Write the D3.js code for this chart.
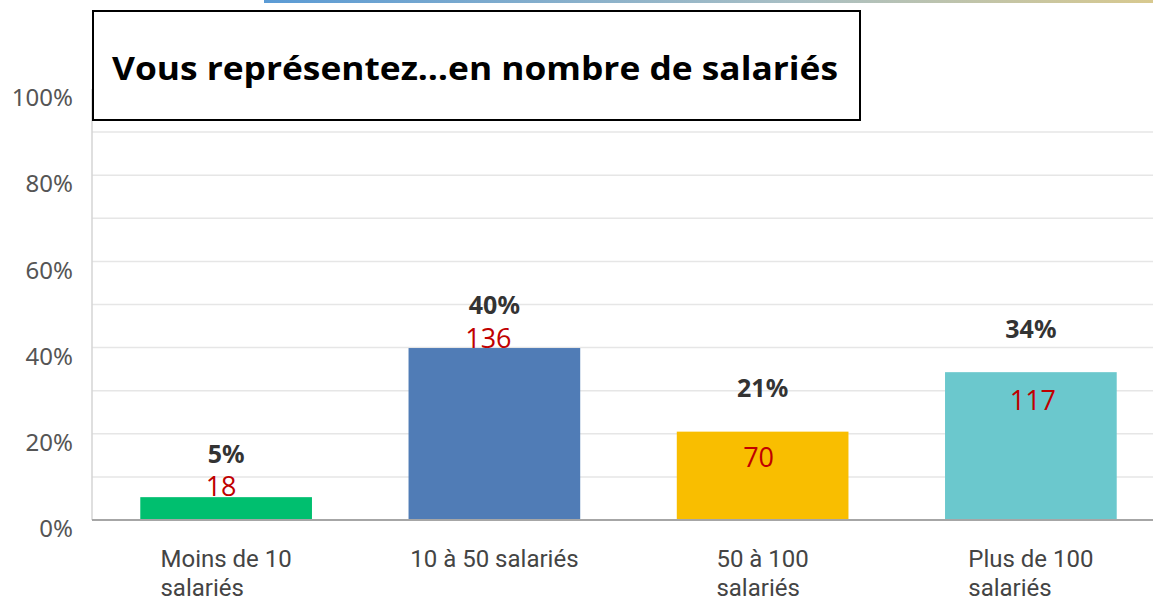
<!DOCTYPE html>
<html>
<head>
<meta charset="utf-8">
<script src="https://cdn.jsdelivr.net/npm/d3@7"></script>
<style>
  body { margin: 0; background: #fff; }
  svg { display: block; }
</style>
</head>
<body>
<script>
// data
const categories = ["Moins de 10 salariés", "10 à 50 salariés", "50 à 100 salariés", "Plus de 100 salariés"];
const catLines = [["Moins de 10", "salariés"], ["10 à 50 salariés"], ["50 à 100", "salariés"], ["Plus de 100", "salariés"]];
const percents = [5.3, 39.9, 20.5, 34.3];
const counts = [18, 136, 70, 117];
const colors = ["#00bf6f", "#507cb6", "#f9be00", "#6bc8cd"];
const yTicks = [0, 20, 40, 60, 80, 100];
const gridTicks = [10, 20, 30, 40, 50, 60, 70, 80, 90];
const title = "Vous représentez…en nombre de salariés";

const W = 1153, H = 602;
const svg = d3.select("body").append("svg").attr("width", W).attr("height", H);

// gradient line along the top
let grad = svg.append("defs").append("linearGradient").attr("id", "topline")
grad.append("stop").attr("offset", "0%").attr("stop-color", "#5b9bd5")
grad.append("stop").attr("offset", "60%").attr("stop-color", "#a9bfc4")
grad.append("stop").attr("offset", "100%").attr("stop-color", "#d8c98f")
svg.append("rect").attr("x", 264).attr("y", 0).attr("width", W - 264).attr("height", 3)
  .attr("fill", "url(#topline)")

const x0 = 92, baseY = 520;
let x = d3.scaleBand().domain(categories).range([x0, 1165]).paddingInner(0.36).paddingOuter(0.18)
let y = d3.scaleLinear().domain([0, 100]).range([baseY, 89])

// grid
svg.append("g").selectAll("line").data(gridTicks).enter().append("line")
  .attr("x1", x0).attr("x2", W)
  .attr("y1", d => y(d)).attr("y2", d => y(d))
  .attr("stroke", "#e6e6e6").attr("stroke-width", 1.5)

svg.append("line").attr("x1", x0).attr("x2", x0).attr("y1", y(100)).attr("y2", baseY)
  .attr("stroke", "#d4d4d4").attr("stroke-width", 1.5)

// y axis labels
let yAxis = d3.axisLeft(y).tickValues(yTicks).tickFormat(d => d + "%").tickSize(0).tickPadding(19)
let yg = svg.append("g").attr("transform", `translate(${x0},9)`).call(yAxis)
yg.select(".domain").remove()
yg.selectAll("text").attr("font-family", "Noto Sans").attr("font-size", 24).attr("fill", "#555")

// bars
svg.append("g").selectAll("rect").data(categories).enter().append("rect")
  .attr("x", d => x(d)).attr("width", x.bandwidth())
  .attr("y", (d, i) => y(percents[i]))
  .attr("height", (d, i) => baseY - y(percents[i]))
  .attr("fill", (d, i) => colors[i])

// baseline
svg.append("line").attr("x1", x0).attr("x2", W).attr("y1", baseY).attr("y2", baseY)
  .attr("stroke", "#a6a6a6").attr("stroke-width", 2)

// percent labels
svg.append("g").selectAll("text").data(categories).enter().append("text")
  .attr("x", d => x(d) + x.bandwidth() / 2)
  .attr("y", (d, i) => y(percents[i]) - 43)
  .attr("dy", "0.35em")
  .attr("text-anchor", "middle")
  .attr("font-family", "Noto Sans").attr("font-weight", "bold").attr("font-size", 25)
  .attr("fill", "#333")
  .text((d, i) => Math.round(percents[i]) + "%")

// red count labels (placed by hand in the original)
const countDy = [-11, -9, 26, 28]
const countDx = [-5, -6, -4, 2]
svg.append("g").selectAll("text").data(categories).enter().append("text")
  .attr("x", (d, i) => x(d) + x.bandwidth() / 2 + countDx[i])
  .attr("y", (d, i) => y(percents[i]) + countDy[i])
  .attr("dy", "0.35em")
  .attr("text-anchor", "middle")
  .attr("font-family", "Open Sans").attr("font-size", 27)
  .attr("fill", "#c00000")
  .text((d, i) => counts[i])

// category labels, block centred, lines left aligned
let cats = svg.append("g").selectAll("text").data(categories).enter().append("text")
  .attr("font-family", "Roboto").attr("font-size", 24).attr("fill", "#444")
cats.each(function (d, i) {
  let t = d3.select(this)
  catLines[i].forEach((l, k) => {
    t.append("tspan").attr("x", 0).attr("y", 567 + k * 29).text(l)
  })
  let w = this.getBBox().width
  t.selectAll("tspan").attr("x", x(d) + x.bandwidth() / 2 - w / 2)
})

// title box
svg.append("rect").attr("x", 93).attr("y", 11).attr("width", 767).attr("height", 109)
  .attr("fill", "#fff").attr("stroke", "#000").attr("stroke-width", 2)
svg.append("text").attr("x", 112).attr("y", 80)
  .attr("font-family", "Open Sans").attr("font-weight", "bold").attr("font-size", 33)
  .attr("textLength", 726).attr("lengthAdjust", "spacingAndGlyphs")
  .attr("fill", "#000")
  .text(title)
</script>
</body>
</html>
